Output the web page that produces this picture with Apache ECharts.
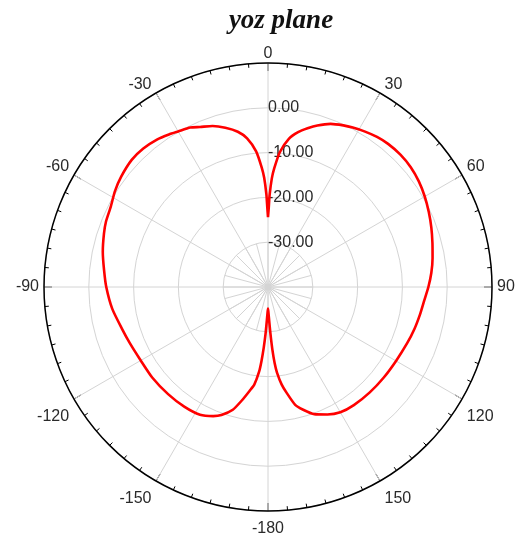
<!DOCTYPE html>
<html>
<head>
<meta charset="utf-8">
<script src="https://cdn.jsdelivr.net/npm/echarts@6/dist/echarts.min.js"></script>
<style>
  html, body { margin: 0; padding: 0; background: #fff; }
  #chart { width: 516px; height: 535px; }
</style>
</head>
<body>
<div id="chart"></div>
<script>
// Radiation pattern in the yoz plane, gain in dB versus angle (deg).
// Right half of the pattern, 0 .. 180 deg
const anglesRight = [0, 0.5, 1, 2, 3, 5, 8, 11, 14, 17, 21, 25, 28, 32, 36, 40, 45, 50, 55, 60, 65, 70, 75, 80, 85, 90, 95, 100, 106, 112, 120, 128, 136, 144, 150, 155, 160, 164, 167, 170, 172, 174, 175, 176, 177, 178, 179, 180];
const gainRight   = [-24.4, -22.5, -19.5, -15.8, -13.5, -9.8, -6.6, -4.8, -3.5, -2.3, -1.0, -0.2, 0.3, 0.9, 1.4, 1.7, 1.8, 1.6, 1.1, 0.4, -0.4, -1.2, -2.0, -2.7, -3.4, -4.2, -5.0, -5.5, -6.0, -6.5, -7.0, -7.2, -7.3, -7.4, -7.7, -8.6, -9.8, -11.5, -13.0, -16.0, -18.0, -20.8, -22.9, -26.0, -29.5, -32.5, -34.3, -35.2];
// Left half of the pattern, -180 .. 0 deg
const anglesLeft = [-180, -179, -178, -177, -176, -175, -174, -172, -170, -167, -164, -160, -157, -152, -145, -137, -128, -120, -112, -106, -98, -90, -84, -78, -72, -68, -63, -58, -53, -47, -42, -37, -33, -30, -26, -23, -19, -15, -11, -8, -5, -3, -2, -1, -0.5, 0];
const gainLeft   = [-35.2, -34.3, -32.5, -29.5, -26.5, -23.5, -21.0, -18.0, -16.5, -14.0, -11.5, -9.6, -8.7, -7.7, -7.4, -7.3, -7.2, -7.2, -6.7, -6.1, -4.9, -3.9, -3.2, -2.3, -1.5, -1.0, -0.6, 0.3, 1.0, 1.6, 1.6, 1.2, 0.6, 0.1, -0.4, -1.2, -2.0, -3.2, -4.7, -6.5, -9.6, -13.3, -15.6, -19.3, -22.3, -24.4];

// Radial (dB) and angular scale settings
const radiusMin = -40, radiusMax = 10, radiusStep = 10;
const angleStep = 30;

// The angle axis runs 0..360 clockwise from the top; the lower half is labelled -180..-30.
const toAxisAngle = a => (a < 0 ? a + 360 : a);
const angleLabel = v => (v === 360 ? '' : String(v > 179 ? v - 360 : v));

const pattern = [];
anglesRight.forEach((a, i) => pattern.push([gainRight[i], toAxisAngle(a)]));
anglesLeft.forEach((a, i) => { if (i > 0) pattern.push([gainLeft[i], a === 0 ? 360 : toAxisAngle(a)]); });

const chart = echarts.init(document.getElementById('chart'), null, { renderer: 'canvas' });
const grid = '#d4d4d4';
const center = [268, 287];

chart.setOption({
  backgroundColor: '#ffffff',
  animation: false,
  title: {
    text: 'yoz plane',
    left: 276,
    textAlign: 'center',
    top: 3,
    textStyle: { fontFamily: 'Liberation Serif', fontStyle: 'italic', fontWeight: 'bold', fontSize: 27, color: '#111' }
  },
  polar: [
    { center: center, radius: 224 },
    { center: center, radius: 45 }
  ],
  angleAxis: [
    {
      polarIndex: 0,
      type: 'value',
      min: 0, max: 360, interval: angleStep,
      startAngle: 90, clockwise: true,
      axisLine: { show: true, lineStyle: { color: '#000', width: 1.5 } },
      axisTick: { show: true, inside: true, length: 8, lineStyle: { color: '#000', width: 1 } },
      minorTick: { show: true, splitNumber: 6, length: 4, lineStyle: { color: '#000', width: 1 } },
      splitLine: { show: true, lineStyle: { color: grid, width: 1 } },
      axisLabel: {
        margin: 1,
        padding: [9, 4, 0, 4],
        fontFamily: 'Liberation Sans', fontSize: 16, color: '#2a2a2a',
        formatter: angleLabel
      }
    },
    {
      polarIndex: 1,
      type: 'value',
      min: 0, max: 360, interval: 15,
      startAngle: 90, clockwise: true,
      axisLine: { show: false }, axisTick: { show: false }, axisLabel: { show: false },
      splitLine: { show: true, lineStyle: { color: grid, width: 1 } }
    }
  ],
  radiusAxis: [
    {
      polarIndex: 0,
      type: 'value',
      min: radiusMin, max: radiusMax, interval: radiusStep,
      axisLine: { show: false }, axisTick: { show: false },
      splitLine: { show: true, lineStyle: { color: grid, width: 1 } },
      axisLabel: {
        showMinLabel: false, showMaxLabel: false,
        margin: 0, align: 'left', verticalAlign: 'middle', padding: [0, 0, 6, 0],
        fontFamily: 'Liberation Sans', fontSize: 16, color: '#2a2a2a',
        formatter: v => v.toFixed(2)
      }
    },
    {
      polarIndex: 1,
      type: 'value',
      min: radiusMin, max: -30,
      axisLine: { show: false }, axisTick: { show: false }, axisLabel: { show: false },
      splitLine: { show: false }
    }
  ],
  series: [{
    type: 'line',
    coordinateSystem: 'polar',
    polarIndex: 0,
    data: pattern,
    showSymbol: false,
    smooth: 0.2,
    lineStyle: { color: '#ff0000', width: 2.6 },
    z: 5
  }]
});
</script>
</body>
</html>
